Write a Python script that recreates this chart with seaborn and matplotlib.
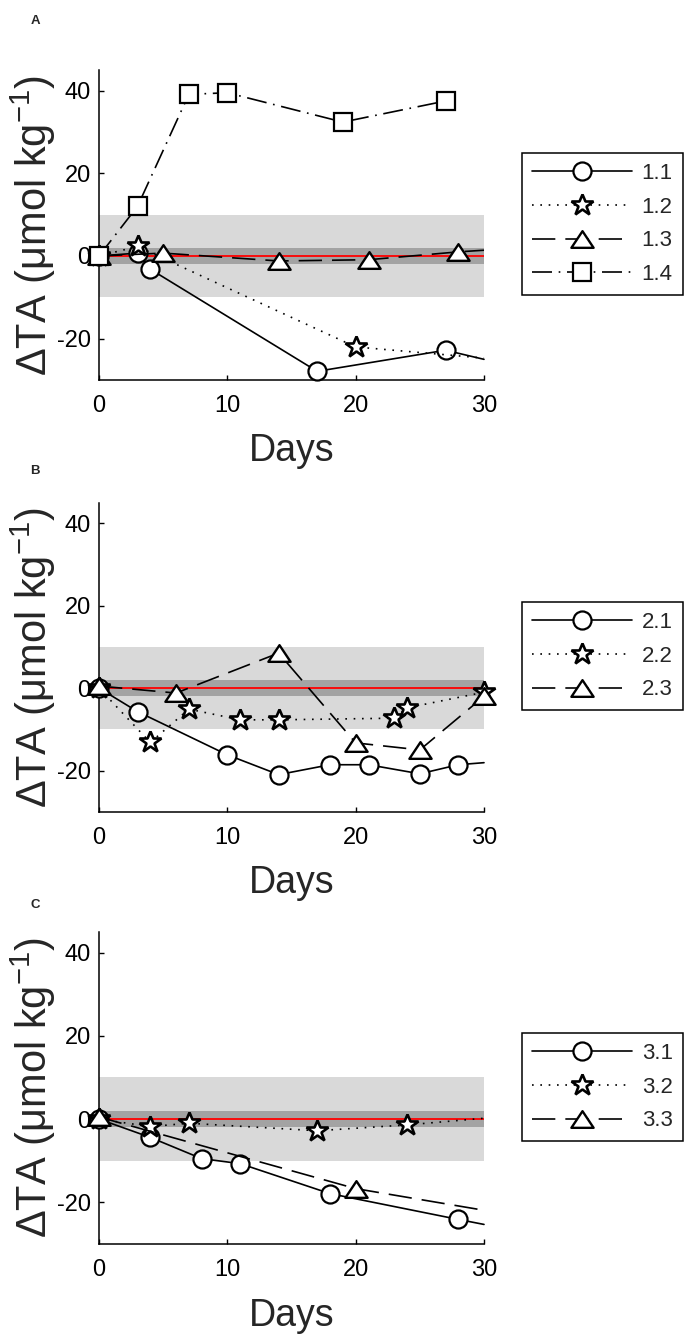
import matplotlib
matplotlib.use("Agg")
import matplotlib.pyplot as plt
from matplotlib.path import Path
import seaborn as sns

# ---------------- data ----------------
# Panel A  (a final unmarked value at day 30 = where the line leaves the axes)
days_11 = [0, 3, 4, 17, 27, 30]
dta_11 = [0, 0.7, -3.2, -27.9, -22.8, -25.0]
days_12 = [0, 3, 20, 30]
dta_12 = [0, 2.3, -22.0, -24.7]
days_13 = [0, 5, 14, 21, 28, 30]
dta_13 = [0, 0.7, -1.2, -0.9, 1.0, 1.4]
days_14 = [0, 3, 7, 10, 19, 27]
dta_14 = [0, 12.0, 39.1, 39.5, 32.4, 37.5]

# Panel B
days_21 = [0, 3, 10, 14, 18, 21, 25, 28, 30]
dta_21 = [0, -5.7, -16.2, -21.0, -18.6, -18.6, -20.8, -18.6, -18.1]
days_22 = [0, 4, 7, 11, 14, 23, 24, 30]
dta_22 = [0, -13.2, -5.1, -7.7, -7.7, -7.3, -4.8, -1.0]
days_23 = [0, 6, 14, 20, 25, 30]
dta_23 = [0.5, -1.2, 8.5, -13.3, -15.0, -2.0]

# Panel C
days_31 = [0, 4, 8, 11, 18, 28, 30]
dta_31 = [0, -4.4, -9.5, -10.7, -17.9, -24.1, -25.3]
days_32 = [0, 4, 7, 17, 24, 30]
dta_32 = [0, -1.8, -1.0, -2.8, -1.4, 0.2]
days_33 = [0, 20, 30]
dta_33 = [0.5, -16.7, -21.9]

labels_a = ["1.1", "1.2", "1.3", "1.4"]
labels_b = ["2.1", "2.2", "2.3"]
labels_c = ["3.1", "3.2", "3.3"]
panel_letters = ["A", "B", "C"]
x_ticks = [0, 10, 20, 30]
y_ticks = [-20, 0, 20, 40]
outer_band = 10
inner_band = 2

# ---------------- style ----------------
sns.set_style("ticks")
plt.rcParams["font.family"] = ["Liberation Sans", "DejaVu Sans"]
plt.rcParams["mathtext.fontset"] = "custom"
plt.rcParams["mathtext.rm"] = "Liberation Sans"
plt.rcParams["axes.unicode_minus"] = False

W, H = 689, 1339
fig = plt.figure(figsize=(W / 100, H / 100), dpi=100)

tri = Path([(0, 0.75), (-1, -0.75), (1, -0.75), (0, 0.75)],
           [Path.MOVETO, Path.LINETO, Path.LINETO, Path.CLOSEPOLY])
styles = {
    "o": dict(marker="o", markersize=13, linestyle="-", mew=1.6),
    "*": dict(marker="*", markersize=16.5, linestyle=(0, (1, 4)), mew=1.9),
    "^": dict(marker=tri, markersize=16, linestyle=(0, (14, 6)), mew=1.7),
    "s": dict(marker="s", markersize=13, linestyle=(0, (12, 4, 1, 4)), mew=1.6),
}

# (x, y, marker, last value is only the line's exit point)
panels = [
    dict(series=[(days_11, dta_11, "o", True), (days_12, dta_12, "*", True),
                 (days_13, dta_13, "^", True), (days_14, dta_14, "s", False)],
         labels=labels_a, top=70, bottom=380, leg_top=153, letter_y=21),
    dict(series=[(days_21, dta_21, "o", True), (days_22, dta_22, "*", False),
                 (days_23, dta_23, "^", False)],
         labels=labels_b, top=502.7, bottom=811.7, leg_top=602, letter_y=471),
    dict(series=[(days_31, dta_31, "o", True), (days_32, dta_32, "*", True),
                 (days_33, dta_33, "^", True)],
         labels=labels_c, top=931.7, bottom=1244, leg_top=1033, letter_y=905),
]

left_px, right_px = 99, 484
for p, letter in zip(panels, panel_letters):
    ax = fig.add_axes([left_px / W, 1 - p["bottom"] / H,
                       (right_px - left_px) / W, (p["bottom"] - p["top"]) / H])
    ax.axhspan(-outer_band, outer_band, color="#d9d9d9", lw=0, zorder=0)
    ax.axhspan(-inner_band, inner_band, color="#a3a3a3", lw=0, zorder=0.5)
    ax.axhline(0, color="red", lw=1.3, zorder=1)
    for (xs, ys, m, exit_pt), lab in zip(p["series"], p["labels"]):
        st = styles[m]
        n = len(xs) - 1 if exit_pt else len(xs)
        sns.lineplot(x=xs, y=ys, ax=ax, color="black", linewidth=1.2,
                     linestyle=st["linestyle"], marker=st["marker"],
                     markersize=st["markersize"], markerfacecolor="white",
                     markeredgecolor="black", markeredgewidth=st["mew"],
                     markevery=list(range(n)), clip_on=False,
                     label=lab, sort=False, zorder=3)
    ax.set_xlim(0, 30)
    ax.set_ylim(-30, 45)
    ax.set_xticks(x_ticks)
    ax.set_yticks(y_ticks)
    ax.tick_params(direction="in", length=3.5, width=1, labelsize=17,
                   colors="black", pad=6)
    ax.tick_params(axis="x", pad=11)
    for s in ["top", "right"]:
        ax.spines[s].set_visible(False)
    for s in ["left", "bottom"]:
        ax.spines[s].set_linewidth(1.1)
        ax.spines[s].set_color("black")
    ax.set_xlabel("Days", fontsize=27)
    ax.set_ylabel(r"ΔTA (μmol kg$^{-1}$)", fontsize=30)
    ax.xaxis.set_label_coords(0.5, -0.172)
    ax.yaxis.set_label_coords(-0.106, 0.5)
    leg = ax.legend(loc="upper left",
                    bbox_to_anchor=(521.7 / W, 1 - p["leg_top"] / H),
                    bbox_transform=fig.transFigure, borderaxespad=0,
                    fontsize=16, handlelength=4.5, handletextpad=0.45,
                    labelspacing=0.57, borderpad=0.45, frameon=True,
                    fancybox=False, framealpha=1, edgecolor="black")
    leg.get_frame().set_linewidth(1.1)
    fig.text(35 / W, 1 - p["letter_y"] / H, letter, fontsize=9.5,
             fontweight="bold", ha="center", va="center")

fig.savefig("out.png", dpi=100)
